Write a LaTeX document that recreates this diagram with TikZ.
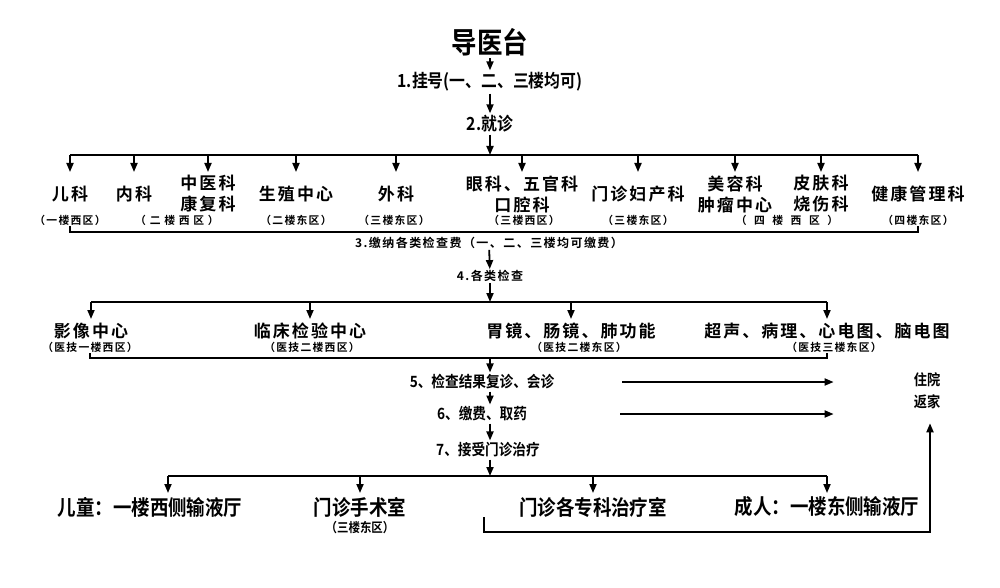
\documentclass[tikz,border=0pt]{standalone}
\usepackage{fontspec}
\newfontfamily\heiti[FakeStretch=0.88]{Noto Sans CJK SC Bold}
\newfontfamily\heikuan[LetterSpace=12]{Noto Sans CJK SC Bold}
\usetikzlibrary{arrows.meta,positioning,calc}

\begin{document}
\begin{tikzpicture}[x=1pt, y=-1pt,
    flow/.style={-{Triangle[length=9pt,width=7pt]}, line width=1.8pt},
    link/.style={line width=1.8pt},
    stage/.style={inner sep=2pt, font=\heiti\fontsize{18}{22}\selectfont},
    dept/.style={inner sep=1pt, align=center, font=\heikuan\fontsize{17}{21}\selectfont},
    area/.style={inner sep=1pt, font=\heikuan\fontsize{10.8}{12}\selectfont},
    ward/.style={inner sep=1pt, font=\heiti\fontsize{21}{24}\selectfont}]
    \useasboundingbox[fill=white] (0,0) rectangle (1000,588);

    % registration and visit
    \node[stage, font=\heiti\fontsize{29}{32}\selectfont] (guide) at (490,42) {导医台};
    \node[stage] (reg) at (490,82) {1.挂号(一、二、三楼均可)};
    \node[stage] (visit) at (490,124) {2.就诊};
    \draw[flow] (guide) -- (reg);
    \draw[flow] (reg) -- (visit);

    % departments
    \node[dept] (d1) at (70,194) {儿科};
    \node[dept] (d2) at (134,194) {内科};
    \node[dept] (d3) at (208,194) {中医科\\康复科};
    \node[dept] (d4) at (296,194) {生殖中心};
    \node[dept] (d5) at (396,194) {外科};
    \node[dept] (d6) at (522,194) {眼科、五官科\\口腔科};
    \node[dept] (d7) at (638,194) {门诊妇产科};
    \node[dept] (d8) at (735,194) {美容科\\肿瘤中心};
    \node[dept] (d9) at (821,194) {皮肤科\\烧伤科};
    \node[dept] (d10) at (918,194) {健康管理科};
    \node[area] (a1) at (70,220) {（一楼西区）};
    \node[area] (a2) at (177,220) {（ 二 楼 西 区 ）};
    \node[area] (a3) at (296,220) {（二楼东区）};
    \node[area] (a4) at (394,220) {（三楼东区）};
    \node[area] (a5) at (524,220) {（三楼西区）};
    \node[area] (a6) at (638,220) {（三楼东区）};
    \node[area] (a7) at (787,220) {（\ \ 四\ \ 楼\ \ 西\ \ 区\ \ ）};
    \node[area] (a8) at (918,220) {（四楼东区）};

    \coordinate (bus1) at (490,155);
    \coordinate (pay) at (490,232);
    \draw[flow] (visit) -- (bus1);
    \draw[link] (d1 |- bus1) -- (d10 |- bus1);
    \foreach \d in {d1,d2,d3,d4,d5,d6,d7,d8,d9,d10}
        \draw[flow] (\d |- bus1) -- ++(0,17);
    \draw[link] (a1.south) |- (pay) -| (a8.south);

    % checks
    \node[area, font=\heikuan\fontsize{12}{14}\selectfont] (fee) at (489,243) {3.缴纳各类检查费（一、二、三楼均可缴费）};
    \node[area, font=\heikuan\fontsize{12}{14}\selectfont] (exam) at (490,276) {4.各类检查};
    \coordinate (bus2) at (490,302);
    \coordinate (back) at (490,358);
    \draw[flow] (fee) -- (exam);
    \draw[flow] (exam) -- (bus2);

    \node[dept] (e1) at (91,331) {影像中心};
    \node[dept] (e2) at (310,331) {临床检验中心};
    \node[dept] (e3) at (571,331) {胃镜、肠镜、肺功能};
    \node[dept] (e4) at (827,331) {超声、病理、心电图、脑电图};
    \node[area] (b1) at (90,347) {（医技一楼西区）};
    \node[area] (b2) at (312,347) {（医技二楼西区）};
    \node[area] (b3) at (579,347) {（医技二楼东区）};
    \node[area] (b4) at (834,347) {（医技三楼东区）};
    \draw[link] (e1 |- bus2) -- (e4 |- bus2);
    \foreach \e in {e1,e2,e3,e4}
        \draw[flow] (\e |- bus2) -- ++(0,17);
    \draw[link] (b1.south) |- (back) -| (e4 |- b4.south);

    % results and treatment
    \node[stage, font=\heiti\fontsize{15.5}{18}\selectfont] (review) at (482,382) {5、检查结果复诊、会诊};
    \node[stage, font=\heiti\fontsize{15.5}{18}\selectfont] (drug) at (482,414) {6、缴费、取药};
    \node[stage, font=\heiti\fontsize{15.5}{18}\selectfont] (treat) at (488,450) {7、接受门诊治疗};
    \node[stage, align=center, font=\heiti\fontsize{15}{22}\selectfont] (home) at (927,391) {住院\\返家};
    \draw[flow] (back) -- (review.north -| back);
    \draw[flow] (review.south -| back) -- (drug.north -| back);
    \draw[flow] (drug.south -| back) -- (treat.north -| back);
    \draw[flow, shorten <=66pt, shorten >=78pt] (review.east) -- (review.east -| home.west);
    \draw[flow, shorten <=91pt, shorten >=78pt] (drug.east) -- (drug.east -| home.west);

    \coordinate (bus3) at (490,476);
    \node[ward] (f1) at (150,507) {儿童：一楼西侧输液厅};
    \node[ward] (f2) at (360,507) {门诊手术室};
    \node[ward] (f3) at (593,507) {门诊各专科治疗室};
    \node[ward] (f4) at (827,507) {成人：一楼东侧输液厅};
    \node[stage, font=\heiti\fontsize{13}{15}\selectfont] (f2a) at (360,528) {（三楼东区）};
    \draw[flow] (treat.south -| back) -- (bus3);
    \draw[link] ([xshift=18pt]f1.north |- bus3) -- (f4 |- bus3);
    \draw[flow] ([xshift=18pt]f1.north |- bus3) -- ++(0,17);
    \foreach \f in {f2,f3,f4}
        \draw[flow] (\f |- bus3) -- ++(0,17);

    \coordinate (ret) at (484,517);
    \coordinate (low) at (930,532);
    \draw[flow, shorten >=12pt] (ret) |- (low) -- (low |- home.south);
\end{tikzpicture}
\end{document}
